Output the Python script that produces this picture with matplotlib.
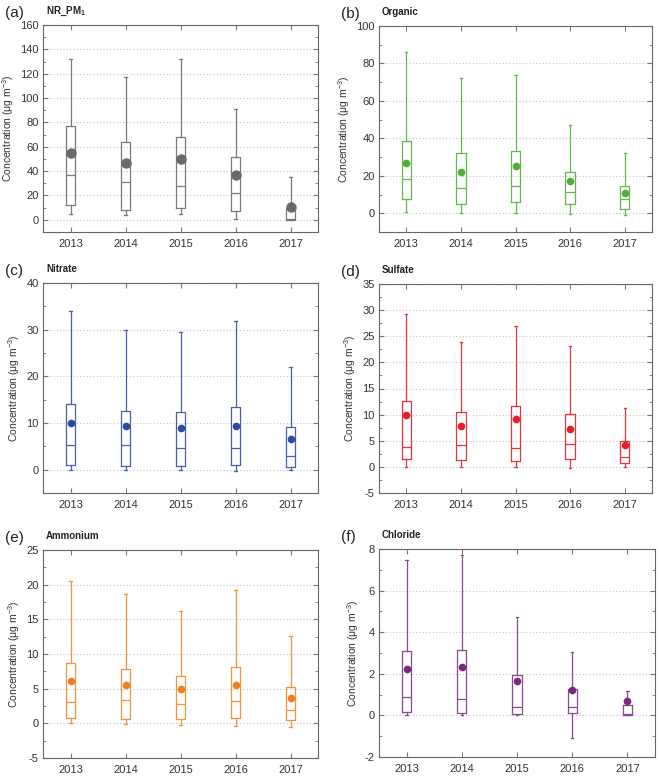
import matplotlib
matplotlib.use("Agg")
import matplotlib.pyplot as plt
import numpy as np
from matplotlib.ticker import MultipleLocator, AutoMinorLocator

plt.rcParams['font.family'] = ['Liberation Sans', 'DejaVu Sans']
plt.rcParams['axes.unicode_minus'] = False
plt.rcParams['mathtext.default'] = 'regular'

anos = ['2013', '2014', '2015', '2016', '2017']

# (baixo, q1, mediana, q3, alto, media) para cada ano
nr_pm1 = [[5, 12, 37, 77, 132, 55],
          [4, 8, 31, 64, 117, 46.5],
          [5, 10, 28, 68, 132, 50],
          [1, 7, 22, 51.5, 91, 36.5],
          [0, 0.2, 0.5, 9.5, 35, 10.5]]
organic = [[0.5, 7.5, 18.5, 38.5, 86, 27],
           [0, 5, 13.5, 32, 72, 22],
           [0, 6, 14.5, 33, 74, 25.5],
           [-0.5, 5, 11.5, 22, 47, 17],
           [-1, 2.5, 7.5, 14.5, 32, 11]]
nitrate = [[0, 1.1, 5.25, 14.1, 34, 10],
           [0, 0.8, 5.2, 12.5, 30, 9.4],
           [0, 0.8, 4.75, 12.3, 29.6, 9.0],
           [-0.3, 1.1, 4.6, 13.4, 31.8, 9.3],
           [0, 0.6, 3.0, 9.1, 22, 6.55]]
sulfate = [[0, 1.5, 3.8, 12.6, 29.2, 10],
           [0, 1.4, 4.1, 10.5, 23.9, 7.8],
           [0, 1.2, 3.7, 11.6, 27.0, 9.2],
           [-0.3, 1.5, 4.3, 10.2, 23.1, 7.2],
           [0, 0.8, 1.95, 5.0, 11.3, 4.2]]
ammonium = [[0, 0.77, 3.1, 8.65, 20.6, 6.05],
            [-0.1, 0.6, 3.4, 7.8, 18.6, 5.5],
            [-0.2, 0.6, 2.8, 6.8, 16.2, 5.0],
            [-0.4, 0.75, 3.2, 8.1, 19.3, 5.5],
            [-0.5, 0.5, 1.9, 5.3, 12.6, 3.7]]
chloride = [[0, 0.15, 0.87, 3.1, 7.45, 2.24],
            [0, 0.11, 0.77, 3.16, 7.7, 2.35],
            [0, 0.08, 0.39, 1.95, 4.75, 1.63],
            [-1.11, 0.1, 0.39, 1.27, 3.05, 1.24],
            [0.02, 0.03, 0.06, 0.5, 1.18, 0.71]]

paineis = [
    ('(a)', 'NR_PM$_1$', nr_pm1, '#7a7a7a', '#6a6a6a', (-10, 160), 20, 7.5),
    ('(b)', 'Organic', organic, '#62b84f', '#4fae3c', (-10, 100), 20, 5.5),
    ('(c)', 'Nitrate', nitrate, '#4a5fa8', '#2e4a9e', (-5, 40), 10, 5.5),
    ('(d)', 'Sulfate', sulfate, '#e0353c', '#e3202a', (-5, 35), 5, 5.5),
    ('(e)', 'Ammonium', ammonium, '#f0963a', '#ee7f22', (-5, 25), 5, 5.5),
    ('(f)', 'Chloride', chloride, '#8a4a8e', '#7a2a7e', (-2, 8), 2, 5.5),
]

fig = plt.figure(figsize=(6.61, 7.78), dpi=100)
W, H = 661, 778
posicoes = [(43, 25, 318, 232), (379, 26, 652, 232),
            (43, 283, 318, 493), (379, 284, 652, 493),
            (43, 550, 318, 758), (379, 549, 655, 757)]

for (letra, nome, dados, cor, cor_media, ylim, passo, ms), (x0, y0, x1, y1) in zip(paineis, posicoes):
    ax = fig.add_axes([x0 / W, 1 - y1 / H, (x1 - x0) / W, (y1 - y0) / H])
    stats = []
    for d in dados:
        stats.append({'whislo': d[0], 'q1': d[1], 'med': d[2], 'q3': d[3],
                      'whishi': d[4], 'mean': d[5], 'fliers': []})
    pos = np.arange(1, len(anos) + 1)
    ax.bxp(stats, positions=pos, widths=0.17, showmeans=False, showcaps=True,
           capwidths=0.04, patch_artist=False,
           boxprops=dict(color=cor, linewidth=0.9),
           whiskerprops=dict(color=cor, linewidth=0.9),
           capprops=dict(color=cor, linewidth=0.9),
           medianprops=dict(color=cor, linewidth=0.9))
    ax.plot(pos, [d[5] for d in dados], 'o', color=cor_media, markersize=ms,
            markeredgewidth=0, zorder=5)
    ax.set_xlim(0.5, 5.5)
    ax.set_ylim(*ylim)
    ax.set_xticks(pos)
    ax.set_xticklabels(anos, fontsize=8)
    ax.yaxis.set_major_locator(MultipleLocator(passo))
    ax.yaxis.set_minor_locator(AutoMinorLocator(2))
    ax.tick_params(axis='both', which='both', direction='in', top=True, right=True,
                   labelsize=8, color='#777777', labelcolor='#333333', pad=3)
    ax.tick_params(axis='both', which='major', length=3.5)
    ax.tick_params(axis='both', which='minor', length=2)
    ax.tick_params(axis='x', which='major', pad=5)
    ax.yaxis.grid(True, linestyle=(0, (1, 2)), color='#c4c4c4', linewidth=0.8)
    ax.set_axisbelow(True)
    for s in ax.spines.values():
        s.set_color('#666666')
        s.set_linewidth(0.8)
    ax.set_ylabel('Concentration (μg m$^{-3}$)', fontsize=7.5, labelpad=3, color='#333333')
    fig.text((x0 - 38) / W, 1 - (y0 - 12) / H, letra, fontsize=11, va='center', ha='left',
             color='#222222')
    fig.text((x0 + 3) / W, 1 - (y0 - 14) / H, nome, fontsize=7, fontweight='bold',
             va='center', ha='left', color='#222222')

fig.savefig('out.png', dpi=100)
